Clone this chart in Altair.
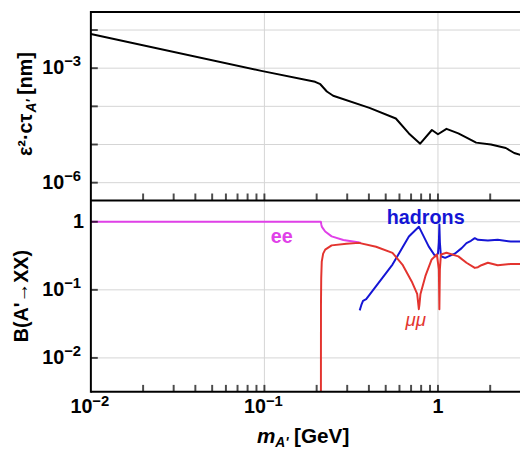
import altair as alt
import pandas as pd

# ---------------- data ----------------
# top panel: eps^2 * c * tau  [nm]
tau_mass = [0.01, 0.096, 0.196, 0.21, 0.229, 0.249, 0.403, 0.572, 0.68, 0.79,
            0.923, 1.0, 1.12, 1.31, 1.49, 1.66, 2.02, 2.46, 2.75, 3.02]
tau_val = [7.9e-3, 8.5e-4, 4.4e-4, 3.8e-4, 2.45e-4, 1.9e-4, 9.1e-5, 4.8e-5, 1.95e-5, 1.05e-5,
           2.4e-5, 1.86e-5, 2.57e-5, 1.95e-5, 1.45e-5, 1.12e-5, 1.0e-5, 8.1e-6, 6.0e-6, 5.25e-6]

# bottom panel: branching ratios
ee_mass = [0.01, 0.2114, 0.213, 0.2145, 0.219, 0.224, 0.244, 0.285, 0.346, 0.36]
ee_val = [1.0, 1.0, 0.9, 0.84, 0.78, 0.72, 0.61, 0.54, 0.50, 0.49]

mumu_mass = [0.2114, 0.2118, 0.2125, 0.214, 0.218, 0.224, 0.244, 0.297, 0.35, 0.44,
             0.547, 0.624, 0.711, 0.759, 0.776, 0.782, 0.793, 0.847, 0.92, 0.986,
             1.012, 1.019, 1.026, 1.04, 1.12, 1.31, 1.46, 1.63, 1.70, 1.78,
             1.94, 2.21, 2.63, 3.02]
mumu_val = [1e-4, 0.06, 0.15, 0.26, 0.34, 0.39, 0.45, 0.475, 0.49, 0.43,
            0.35, 0.235, 0.128, 0.087, 0.052, 0.06, 0.087, 0.16, 0.28, 0.33,
            0.2, 0.052, 0.2, 0.33, 0.35, 0.31, 0.25, 0.21, 0.215, 0.23,
            0.25, 0.23, 0.24, 0.24]

had_mass = [0.354, 0.362, 0.37, 0.386, 0.547, 0.68, 0.776, 0.884, 0.965, 1.0,
            1.012, 1.019, 1.026, 1.04, 1.1, 1.25, 1.37, 1.46, 1.55, 1.63,
            1.70, 1.94, 2.21, 2.63, 3.02]
had_val = [0.050, 0.060, 0.069, 0.073, 0.235, 0.607, 0.847, 0.435, 0.311, 0.34,
           0.5, 0.916, 0.5, 0.311, 0.295, 0.34, 0.41, 0.486, 0.525, 0.575,
           0.543, 0.531, 0.543, 0.513, 0.513]

curve_label_text = ["ee", "hadrons", "μμ"]
curve_label_mass = [0.1257, 0.85, 0.746]
curve_label_val = [0.49, 0.926, 0.0298]
curve_label_color = ["#e040e8", "#1515d5", "#e3342f"]

# axes
x_decades = [0.01, 0.1, 1]
x_exp_vals = [0.01, 0.1]
x_exp_text = ["−2", "−1"]
x_one_vals = [1]
x_ticks = [0.02, 0.03, 0.04, 0.05, 0.06, 0.07, 0.08, 0.09, 0.1,
           0.2, 0.3, 0.4, 0.5, 0.6, 0.7, 0.8, 0.9, 1.0, 2.0]
top_decades = [1e-2, 1e-3, 1e-4, 1e-5, 1e-6]
top_exp_vals = [1e-3, 1e-6]
top_exp_text = ["−3", "−6"]
bot_decades = [1.0, 0.1, 0.01]
bot_exp_vals = [0.1, 0.01]
bot_exp_text = ["−1", "−2"]
bot_one_vals = [1.0]

# ---------------- layout ----------------
FONT = "Liberation Sans"
W = 435          # plot width
H1 = 191         # top panel height
H = 385          # total plot height (top + bottom panel)
GRID = "#d4d4d4"

xs = alt.Scale(type="log", domain=[0.01, 2.97], nice=False)


def yt():
    return alt.Scale(type="log", domain=[3.43e-7, 2.97e-2], nice=False, range=[H1, 0])


def yb():
    return alt.Scale(type="log", domain=[3.18e-3, 2.06], nice=False, range=[H, H1])


one = pd.DataFrame({"k": [0]})


def X(field):
    return alt.X(field, scale=xs, axis=None)


def Yt(field):
    return alt.Y(field, scale=yt(), axis=None)


def Yb(field):
    return alt.Y(field, scale=yb(), axis=None)


layers = []

# vertical grid lines through both panels
layers.append(alt.Chart(pd.DataFrame({"g": x_decades})).mark_rule(
    color=GRID, strokeWidth=1).encode(x=X("g:Q"), y=alt.value(0), y2=alt.value(H)))
# horizontal grid lines
layers.append(alt.Chart(pd.DataFrame({"gt": top_decades})).mark_rule(
    color=GRID, strokeWidth=1).encode(y=Yt("gt:Q"), x=alt.value(0), x2=alt.value(W)))
layers.append(alt.Chart(pd.DataFrame({"gb": bot_decades})).mark_rule(
    color=GRID, strokeWidth=1).encode(y=Yb("gb:Q"), x=alt.value(0), x2=alt.value(W)))

# curves
layers.append(alt.Chart(pd.DataFrame({"m": tau_mass, "v": tau_val})).mark_line(
    color="black", strokeWidth=2, clip=True, strokeJoin="round").encode(
    x=X("m:Q"), y=Yt("v:Q")))
layers.append(alt.Chart(pd.DataFrame({"m": ee_mass, "v": ee_val})).mark_line(
    color="#e040e8", strokeWidth=2, clip=True, strokeJoin="round").encode(
    x=X("m:Q"), y=Yb("v:Q")))
layers.append(alt.Chart(pd.DataFrame({"m": had_mass, "v": had_val})).mark_line(
    color="#1515d5", strokeWidth=2, clip=True, strokeJoin="round").encode(
    x=X("m:Q"), y=Yb("v:Q")))
layers.append(alt.Chart(pd.DataFrame({"m": mumu_mass, "v": mumu_val})).mark_line(
    color="#e3342f", strokeWidth=2, clip=True, strokeJoin="round").encode(
    x=X("m:Q"), y=Yb("v:Q")))

# curve labels
lab_df = pd.DataFrame({"m": curve_label_mass, "v": curve_label_val,
                       "t": curve_label_text, "c": curve_label_color})
layers.append(alt.Chart(lab_df).transform_filter(alt.datum.t != "μμ").mark_text(
    align="center", baseline="alphabetic", font=FONT, fontSize=20, fontWeight="bold").encode(
    x=X("m:Q"), y=Yb("v:Q"), text="t:N", color=alt.Color("c:N", scale=None)))
layers.append(alt.Chart(lab_df).transform_filter(alt.datum.t == "μμ").mark_text(
    align="center", baseline="alphabetic", font=FONT, fontSize=19, fontStyle="italic").encode(
    x=X("m:Q"), y=Yb("v:Q"), text="t:N", color=alt.Color("c:N", scale=None)))

# frame lines (left, top, middle, bottom)
frame = dict(color="black", strokeWidth=2)
layers.append(alt.Chart(one).mark_rule(**frame).encode(
    x=alt.value(0), y=alt.value(-1), y2=alt.value(H + 1)))
layers.append(alt.Chart(one).mark_rule(**frame).encode(
    x=alt.value(0), x2=alt.value(W), y=alt.value(0)))
layers.append(alt.Chart(one).mark_rule(**frame).encode(
    x=alt.value(0), x2=alt.value(W), y=alt.value(H1)))
layers.append(alt.Chart(one).mark_rule(**frame).encode(
    x=alt.value(0), x2=alt.value(W), y=alt.value(H)))

# inward ticks (pointing up from the panel bottoms, right from the left edge)
for yy in (H1, H):
    layers.append(alt.Chart(pd.DataFrame({"tk": x_ticks})).mark_tick(
        color="black", orient="vertical", size=7, thickness=2).encode(
        x=X("tk:Q"), y=alt.value(yy - 3.5)))
layers.append(alt.Chart(pd.DataFrame({"tt": top_decades})).mark_tick(
    color="black", orient="horizontal", size=7, thickness=2).encode(
    y=Yt("tt:Q"), x=alt.value(3.5)))
layers.append(alt.Chart(pd.DataFrame({"tb": bot_decades})).mark_tick(
    color="black", orient="horizontal", size=7, thickness=2).encode(
    y=Yb("tb:Q"), x=alt.value(3.5)))

# y tick labels
txt = dict(font=FONT, fontWeight="bold", color="black")
for vals, texts, Yf in ((top_exp_vals, top_exp_text, Yt), (bot_exp_vals, bot_exp_text, Yb)):
    df = pd.DataFrame({"v": vals, "e": texts})
    layers.append(alt.Chart(df).mark_text(align="right", baseline="middle", fontSize=20,
                                          **txt).encode(
        y=Yf("v:Q"), x=alt.value(-27), text=alt.value("10")))
    layers.append(alt.Chart(df).mark_text(align="left", baseline="middle", dy=-7,
                                          fontSize=15, **txt).encode(
        y=Yf("v:Q"), x=alt.value(-27), text="e:N"))
layers.append(alt.Chart(pd.DataFrame({"v": bot_one_vals})).mark_text(
    align="right", baseline="middle", fontSize=20, **txt).encode(
    y=Yb("v:Q"), x=alt.value(-7), text=alt.value("1")))

# x tick labels
xl_df = pd.DataFrame({"m": x_exp_vals, "e": x_exp_text})
layers.append(alt.Chart(xl_df).mark_text(align="right", baseline="middle", dx=1.5,
                                         fontSize=20, **txt).encode(
    x=X("m:Q"), y=alt.value(H + 15), text=alt.value("10")))
layers.append(alt.Chart(xl_df).mark_text(align="left", baseline="middle", dx=1.5,
                                         fontSize=15, **txt).encode(
    x=X("m:Q"), y=alt.value(H + 9), text="e:N"))
layers.append(alt.Chart(pd.DataFrame({"m": x_one_vals})).mark_text(
    align="center", baseline="middle", fontSize=20, **txt).encode(
    x=X("m:Q"), y=alt.value(H + 15), text=alt.value("1")))

# x axis title: m_A' [GeV]
layers.append(alt.Chart(one).mark_text(align="right", baseline="alphabetic", fontSize=21,
                                       fontStyle="italic", **txt).encode(
    x=alt.value(187), y=alt.value(H + 52), text=alt.value("m")))
layers.append(alt.Chart(one).mark_text(align="left", baseline="alphabetic", fontSize=14,
                                       fontStyle="italic", **txt).encode(
    x=alt.value(187), y=alt.value(H + 56), text=alt.value("A'")))
layers.append(alt.Chart(one).mark_text(align="left", baseline="alphabetic", fontSize=21,
                                       **txt).encode(
    x=alt.value(206), y=alt.value(H + 52), text=alt.value("[GeV]")))

# y axis titles
layers.append(alt.Chart(one).mark_text(angle=270, align="left", baseline="alphabetic",
                                       fontSize=20, **txt).encode(
    x=alt.value(-60), y=alt.value(146), text=alt.value("ε²·cτ")))
layers.append(alt.Chart(one).mark_text(angle=270, align="left", baseline="alphabetic",
                                       fontSize=14, fontStyle="italic", **txt).encode(
    x=alt.value(-56), y=alt.value(102), text=alt.value("A'")))
layers.append(alt.Chart(one).mark_text(angle=270, align="left", baseline="alphabetic",
                                       fontSize=20, **txt).encode(
    x=alt.value(-60), y=alt.value(84), text=alt.value("[nm]")))
layers.append(alt.Chart(one).mark_text(angle=270, align="center", baseline="alphabetic",
                                       fontSize=20, **txt).encode(
    x=alt.value(-64), y=alt.value((H1 + H) / 2), text=alt.value("B(A'→XX)")))

chart = alt.layer(*layers).resolve_scale(y="independent").properties(
    width=W, height=H,
    autosize=alt.AutoSizeParams(type="none"),
    padding={"left": 84, "top": 1, "right": 0, "bottom": 58},
).configure_view(stroke="transparent")

chart.save("out.html", embed_options={"renderer": "svg", "actions": False})
